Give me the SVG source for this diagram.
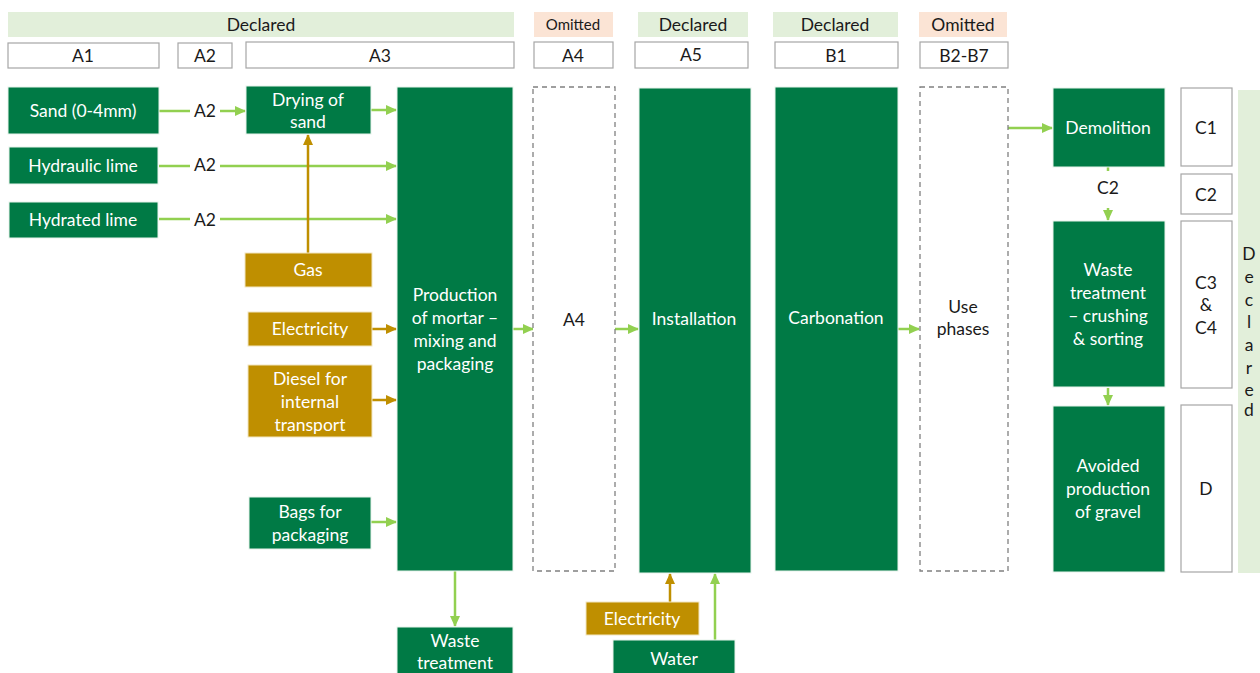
<svg xmlns="http://www.w3.org/2000/svg" width="1260" height="673" viewBox="0 0 1260 673">
<defs>
<style>
text{font-family:Lato,"Open Sans","Liberation Sans",sans-serif;font-size:17.5px;text-anchor:middle;dominant-baseline:central}
.w{fill:#fff}
.k{fill:#1a1a1a}
.sm{font-size:15px}
.g{fill:#007A45;stroke:#e8f3ec;stroke-width:1}
.o{fill:#BF8F00;stroke:#f2e6c2;stroke-width:1}
.box{fill:#fff;stroke:#A6A6A6;stroke-width:1.2}
.dash{fill:#fff;stroke:#808080;stroke-width:1.3;stroke-dasharray:5 4}
.dec{fill:#E2EFDA}
.om{fill:#FBE4D5}
.lg{stroke:#92D050;stroke-width:2.5;fill:none}
.ld{stroke:#BF8F00;stroke-width:2.5;fill:none}
</style>
<marker id="ag" markerWidth="12" markerHeight="12" refX="10" refY="6" orient="auto" markerUnits="userSpaceOnUse"><path d="M0,1 L11,6 L0,11 Z" fill="#92D050"/></marker>
<marker id="ad" markerWidth="12" markerHeight="12" refX="10" refY="6" orient="auto" markerUnits="userSpaceOnUse"><path d="M0,1 L11,6 L0,11 Z" fill="#BF8F00"/></marker>
</defs>
<rect width="1260" height="673" fill="#fff"/>

<g id="header">
<rect class="dec" x="8" y="12" width="506" height="25"/><text class="k" x="261" y="24">Declared</text>
<rect class="om" x="534" y="12" width="79" height="25"/><text class="k sm" x="573" y="24">Omitted</text>
<rect class="dec" x="638" y="12" width="110" height="25"/><text class="k" x="693" y="24">Declared</text>
<rect class="dec" x="773" y="12" width="125" height="25"/><text class="k" x="835" y="24">Declared</text>
<rect class="om" x="919" y="12" width="88" height="25"/><text class="k" x="963" y="24">Omitted</text>
<rect class="box" x="8" y="43" width="151" height="25"/><text class="k" x="83" y="55">A1</text>
<rect class="box" x="178" y="43" width="54" height="25"/><text class="k" x="205" y="55">A2</text>
<rect class="box" x="246" y="42" width="268" height="26"/><text class="k" x="380" y="55">A3</text>
<rect class="box" x="534" y="42" width="79" height="26"/><text class="k" x="573" y="55">A4</text>
<rect class="box" x="635" y="42" width="113" height="26"/><text class="k" x="691" y="54">A5</text>
<rect class="box" x="775" y="42" width="123" height="26"/><text class="k" x="836" y="55">B1</text>
<rect class="box" x="920" y="42" width="88" height="26"/><text class="k" x="964" y="55">B2-B7</text>
</g>

<g id="connectors">
<line class="lg" x1="159" y1="111" x2="190" y2="111"/><line class="lg" x1="220" y1="111" x2="245" y2="111" marker-end="url(#ag)"/>
<line class="lg" x1="159" y1="166" x2="190" y2="166"/><line class="lg" x1="220" y1="166" x2="396" y2="166" marker-end="url(#ag)"/>
<line class="lg" x1="159" y1="219" x2="190" y2="219"/><line class="lg" x1="220" y1="219" x2="396" y2="219" marker-end="url(#ag)"/>
<text class="k" x="205" y="110">A2</text>
<text class="k" x="205" y="164">A2</text>
<text class="k" x="205" y="219">A2</text>
<line class="lg" x1="371" y1="110" x2="396" y2="110" marker-end="url(#ag)"/>
<line class="ld" x1="308" y1="253" x2="308" y2="135" marker-end="url(#ad)"/>
<line class="ld" x1="372" y1="329" x2="396" y2="329" marker-end="url(#ad)"/>
<line class="ld" x1="372" y1="400" x2="396" y2="400" marker-end="url(#ad)"/>
<line class="lg" x1="371" y1="522" x2="396" y2="522" marker-end="url(#ag)"/>
<line class="lg" x1="513" y1="329" x2="533" y2="329" marker-end="url(#ag)"/>
<line class="lg" x1="615" y1="329" x2="638" y2="329" marker-end="url(#ag)"/>
<line class="lg" x1="898" y1="329" x2="919" y2="329" marker-end="url(#ag)"/>
<line class="lg" x1="1008" y1="128" x2="1052" y2="128" marker-end="url(#ag)"/>
<line class="lg" x1="1108" y1="167" x2="1108" y2="171"/>
<line class="lg" x1="1108" y1="208" x2="1108" y2="220" marker-end="url(#ag)"/>
<text class="k" x="1108" y="187">C2</text>
<line class="lg" x1="1108" y1="388" x2="1108" y2="405" marker-end="url(#ag)"/>
<line class="lg" x1="455" y1="571" x2="455" y2="626" marker-end="url(#ag)"/>
<line class="ld" x1="670" y1="602" x2="670" y2="574" marker-end="url(#ad)"/>
<line class="lg" x1="715" y1="640" x2="715" y2="574" marker-end="url(#ag)"/>
</g>

<g id="sand"><rect class="g" x="8" y="87" width="151" height="47"/><text class="w" x="83" y="110">Sand (0-4mm)</text></g>
<g id="hydraulic"><rect class="g" x="9" y="147" width="149" height="37"/><text class="w" x="83" y="165">Hydraulic lime</text></g>
<g id="hydrated"><rect class="g" x="9" y="202" width="149" height="36"/><text class="w" x="83" y="219">Hydrated lime</text></g>
<g id="drying"><rect class="g" x="246" y="86" width="125" height="48"/><text class="w" x="308" y="99">Drying of</text><text class="w" x="308" y="121">sand</text></g>
<g id="gas"><rect class="o" x="245" y="253" width="127" height="34"/><text class="w" x="308" y="269">Gas</text></g>
<g id="electricity1"><rect class="o" x="248" y="312" width="124" height="34"/><text class="w" x="310" y="328">Electricity</text></g>
<g id="diesel"><rect class="o" x="248" y="365" width="124" height="72"/><text class="w" x="310" y="378">Diesel for</text><text class="w" x="310" y="401">internal</text><text class="w" x="310" y="424">transport</text></g>
<g id="bags"><rect class="g" x="249" y="497" width="122" height="52"/><text class="w" x="310" y="511">Bags for</text><text class="w" x="310" y="534">packaging</text></g>
<g id="production"><rect class="g" x="397" y="87" width="116" height="484"/><text class="w" x="455" y="294">Production</text><text class="w" x="455" y="317">of mortar –</text><text class="w" x="455" y="340">mixing and</text><text class="w" x="455" y="363">packaging</text></g>
<g id="waste1"><rect class="g" x="397" y="627" width="116" height="50"/><text class="w" x="455" y="640">Waste</text><text class="w" x="455" y="662">treatment</text></g>
<g id="a4"><rect class="dash" x="533" y="87" width="82" height="484"/><text class="k" x="574" y="319">A4</text></g>
<g id="installation"><rect class="g" x="639" y="88" width="112" height="485"/><text class="w" x="694" y="318">Installation</text></g>
<g id="electricity2"><rect class="o" x="586" y="602" width="113" height="33"/><text class="w" x="642" y="618">Electricity</text></g>
<g id="water"><rect class="g" x="613" y="640" width="122" height="37"/><text class="w" x="674" y="658">Water</text></g>
<g id="carbonation"><rect class="g" x="775" y="87" width="123" height="484"/><text class="w" x="836" y="317">Carbonation</text></g>
<g id="use"><rect class="dash" x="920" y="87" width="88" height="484"/><text class="k" x="963" y="306">Use</text><text class="k" x="963" y="328">phases</text></g>
<g id="demolition"><rect class="g" x="1053" y="88" width="112" height="79"/><text class="w" x="1108" y="127">Demolition</text></g>
<g id="wastecrush"><rect class="g" x="1053" y="221" width="112" height="166"/><text class="w" x="1108" y="269">Waste</text><text class="w" x="1108" y="292">treatment</text><text class="w" x="1108" y="315">– crushing</text><text class="w" x="1108" y="338">&amp; sorting</text></g>
<g id="avoided"><rect class="g" x="1053" y="406" width="112" height="166"/><text class="w" x="1108" y="465">Avoided</text><text class="w" x="1108" y="488">production</text><text class="w" x="1108" y="511">of gravel</text></g>
<g id="stages-c">
<rect class="box" x="1181" y="88" width="51" height="78"/><text class="k" x="1206" y="127">C1</text>
<rect class="box" x="1181" y="174" width="51" height="40"/><text class="k" x="1206" y="194">C2</text>
<rect class="box" x="1181" y="221" width="51" height="167"/><text class="k" x="1206" y="282">C3</text><text class="k" x="1206" y="304">&amp;</text><text class="k" x="1206" y="327">C4</text>
<rect class="box" x="1181" y="405" width="51" height="167"/><text class="k" x="1206" y="488">D</text>
<rect class="dec" x="1238" y="90" width="22" height="483"/>
<text class="k" x="1249" y="253">D</text><text class="k" x="1249" y="276">e</text><text class="k" x="1249" y="299">c</text><text class="k" x="1249" y="321">l</text><text class="k" x="1249" y="344">a</text><text class="k" x="1249" y="367">r</text><text class="k" x="1249" y="389">e</text><text class="k" x="1249" y="409">d</text>
</g>
</svg>
